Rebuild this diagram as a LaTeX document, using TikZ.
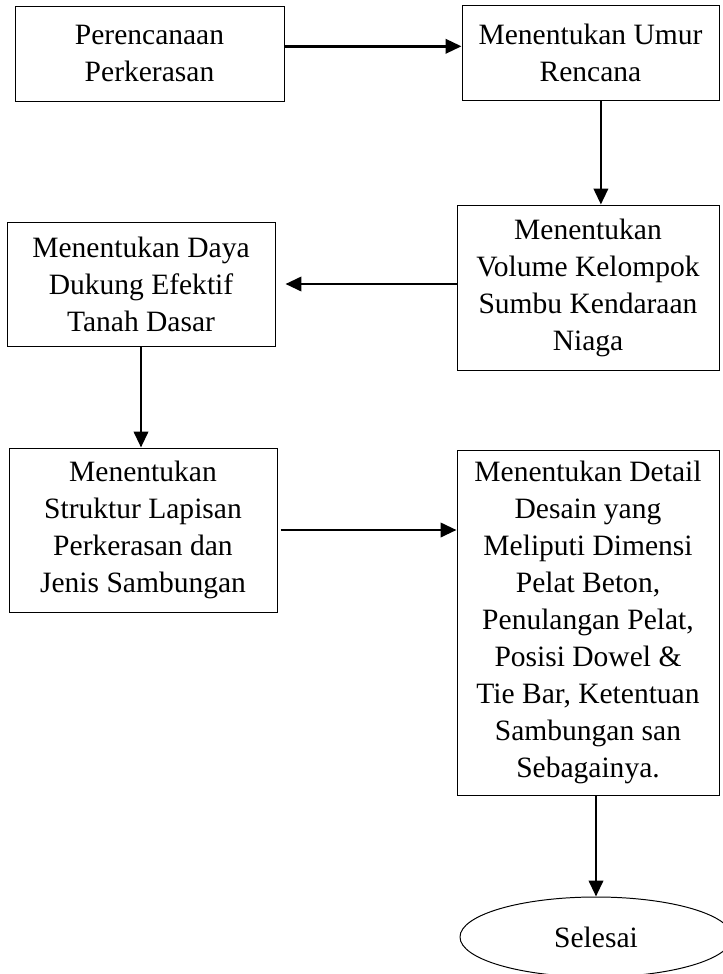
\documentclass[tikz,border=0pt]{standalone}
\usepackage{fontspec}
\setmainfont{Liberation Serif}
\usetikzlibrary{arrows.meta,shapes.geometric}
\begin{document}
\begin{tikzpicture}[x=1cm,y=1cm,
  box/.style={draw,line width=0.7pt,align=center,inner sep=0pt,
    font=\fontsize{21}{26.3}\selectfont},
  arr/.style={line width=1.9pt,-{Triangle[length=0.4cm,width=0.36cm]}}]
\useasboundingbox (0,0) rectangle (18.075,-24.35);
\node[box,minimum width=6.725cm,minimum height=2.375cm] (plan) at (3.7375,-1.3375) {Perencanaan\\Perkerasan};
\node[box,minimum width=6.425cm,minimum height=2.375cm] (umur) at (14.7625,-1.3125) {Menentukan Umur\\Rencana};
\node[box,minimum width=6.55cm,minimum height=4.125cm] (volume) at (14.7,-7.1875) {Menentukan\\Volume Kelompok\\Sumbu Kendaraan\\Niaga};
\node[box,minimum width=6.7cm,minimum height=3.1cm] (daya) at (3.525,-7.1) {Menentukan Daya\\Dukung Efektif\\Tanah Dasar};
\node[box,minimum width=6.7cm,minimum height=4.1cm] (struktur) at (3.575,-13.25) {Menentukan\\Struktur Lapisan\\Perkerasan dan\\Jenis Sambungan};
\node[box,minimum width=6.55cm,minimum height=8.625cm] (detail) at (14.7,-15.5625) {Menentukan Detail\\Desain yang\\Meliputi Dimensi\\Pelat Beton,\\Penulangan Pelat,\\Posisi Dowel \&\\Tie Bar, Ketentuan\\Sambungan san\\Sebagainya.};
\node[box,ellipse,minimum width=6.8cm,minimum height=2cm] (selesai) at (14.9,-23.425) {Selesai};
% arrows
\draw[arr] ([yshift=0.18cm]plan.east) -- ([yshift=0.18cm]plan.east -| umur.west);
\draw[arr] ([xshift=0.26cm]umur.south) -- ([xshift=0.26cm]umur.south |- volume.north);
\draw[arr,shorten >=0.25cm] (volume.west |- daya.east) -- (daya.east);
\draw[arr] (daya.south) -- (daya.south |- struktur.north);
\draw[arr,shorten <=0.08cm] (struktur.east) -- (struktur.east -| detail.west);
\draw[arr] (detail.south -| selesai.north) -- (selesai.north);
\end{tikzpicture}
\end{document}
